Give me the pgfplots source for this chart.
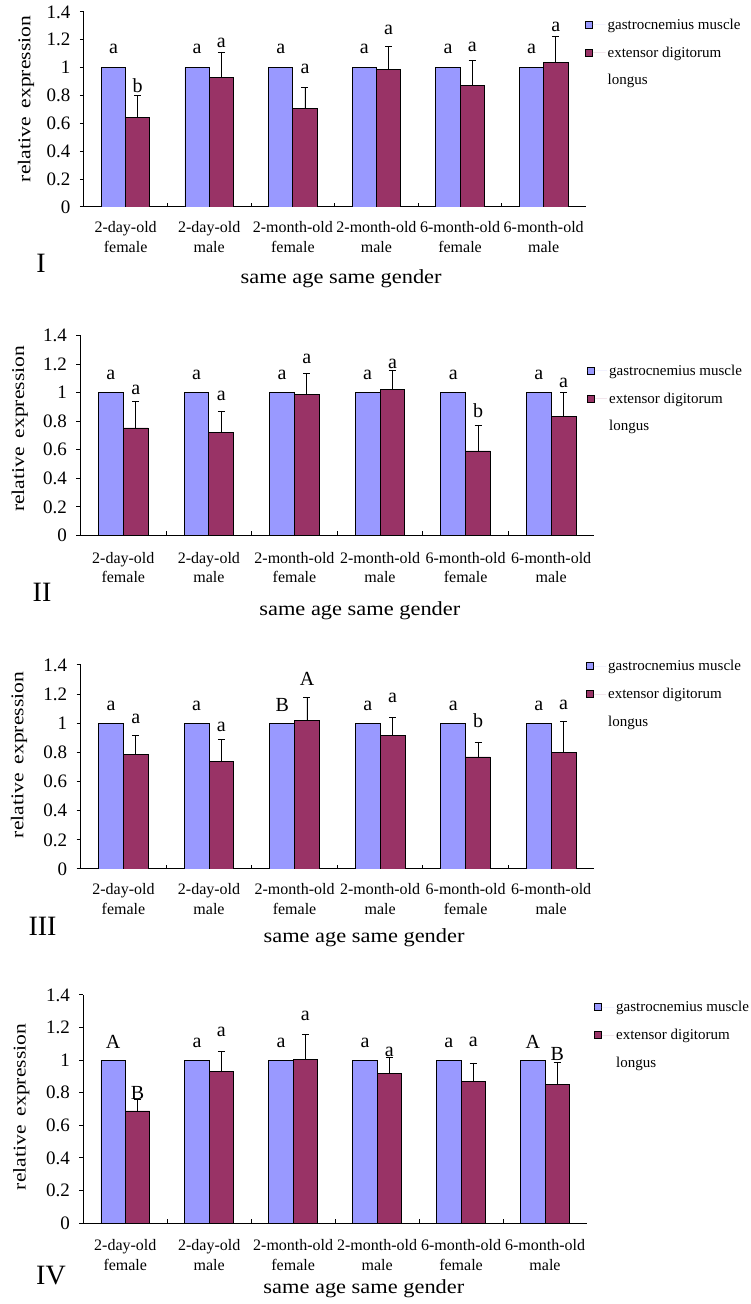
\documentclass[border=0pt]{standalone}
\usepackage{fontspec}
\setmainfont{Liberation Serif}
\newfontfamily\stretchfont{Liberation Serif}[FakeStretch=1.2]
\newfontfamily\stretchfontb{Liberation Serif}[FakeStretch=1.12]
\usepackage{pgfplots}
\pgfplotsset{compat=1.18}
\definecolor{gblue}{HTML}{9999FF}
\definecolor{gred}{HTML}{993366}
\newcommand\tickfont{\fontsize{19}{22}\selectfont}
\newcommand\catfont{\fontsize{16}{19.5}\selectfont}
\newcommand\letfont{\fontsize{20}{22}\selectfont}
\newcommand\legfont{\fontsize{15}{17}\selectfont}
\newcommand\labfont{\fontsize{20}{24}\stretchfontb}
\newcommand\ylabfont{\fontsize{18}{20}\stretchfont}
\newcommand\romfont{\fontsize{28}{30}\selectfont}

\pgfplotsset{
 panel/.style={
  scale only axis, xmin=0, xmax=6, ymin=0, ymax=1.4,
  axis lines*=left,
  axis line style={black, line width=1pt},
  tick align=outside,
  major tick length=4pt,
  tick style={black, line width=1pt},
  ytick={0,0.2,...,1.4},
  yticklabel style={font=\tickfont, xshift=-6pt},
  /pgf/number format/assume math mode=true,
  xtick={0.5,1.5,...,5.5},
  xticklabels={{2-day-old\\female},{2-day-old\\male},{2-month-old\\female},{2-month-old\\male},{6-month-old\\female},{6-month-old\\male}},
  xtick style={draw=none},
  extra x ticks={1,2,3,4,5},
  extra x tick labels={},
  extra x tick style={tick align=inside, xtick style={draw=black}},
  ylabel={relative\hspace{0.5em}expression},
  xlabel={same age same gender},
  legend style={draw=none, fill=none, font=\legfont, at={(1,1)}, anchor=north west, legend cell align=left, row sep=12pt},
  legend image code/.code={\draw[##1, draw=black, line width=0.8pt] (0pt,-3.5pt) rectangle (7pt,3.5pt); \path[draw=none] (0pt,0pt) -- (20pt,0pt);},
 },
 gbar/.style={ybar, bar width=0.29, bar shift=0, fill=gblue, draw=black, line width=0.8pt},
 rbar/.style={ybar, bar width=0.29, bar shift=0, fill=gred, draw=black, line width=0.8pt, error bars/.cd, y dir=plus, y explicit, error bar style={black, line width=0.8pt}, error mark options={rotate=90, mark size=3.5pt, black, line width=0.8pt}},
 letters/.style={forget plot, draw=none, mark=none, nodes near coords, point meta=explicit symbolic, nodes near coords style={anchor=center, font=\letfont, text=black}},
}

\begin{document}
\begin{tikzpicture}
\path[use as bounding box] (0pt,0pt) rectangle (750pt,1304pt);

% ---------- Panel I ----------
\begin{axis}[panel, at={(83.8pt,1097pt)}, anchor=south west, width=501.7pt, height=195pt,
  xticklabel style={align=center, font=\catfont, yshift=-7pt},
  xlabel style={at={(axis description cs:0.513,-0.369)}, anchor=center, font=\labfont},
  ylabel style={at={(axis description cs:-0.115,0.554)}, anchor=center, font=\ylabfont},
  legend style={xshift=-3.5pt, yshift=-2.5pt}]
\addplot[gbar] coordinates {(0.355,1) (1.355,1) (2.355,1) (3.355,1) (4.355,1) (5.355,1)};
\addlegendentry{gastrocnemius muscle}
\addplot[rbar] coordinates {(0.645,0.642) +- (0,0.158) (1.645,0.928) +- (0,0.185) (2.645,0.71) +- (0,0.147) (3.645,0.989) +- (0,0.164) (4.645,0.873) +- (0,0.177) (5.645,1.04) +- (0,0.185)};
\addlegendentry{extensor digitorum}
\addlegendimage{empty legend}
\addlegendentry{longus}
\addplot[letters] coordinates {(0.355,1.137) [a] (1.355,1.137) [a] (2.355,1.137) [a] (3.355,1.137) [a] (4.355,1.137) [a] (5.355,1.137) [a]};
\addplot[letters] coordinates {(0.645,0.873) [b] (1.645,1.18) [a] (2.645,0.993) [a] (3.645,1.268) [a] (4.645,1.148) [a] (5.645,1.292) [a]};
\end{axis}
\node[font=\romfont] at (41pt,1041pt) {I};

% ---------- Panel II ----------
\begin{axis}[panel, at={(80.5pt,768.5pt)}, anchor=south west, width=513.5pt, height=200pt,
  xticklabel style={align=center, font=\catfont, yshift=-9pt},
  xlabel style={at={(axis description cs:0.544,-0.378)}, anchor=center, font=\labfont},
  ylabel style={at={(axis description cs:-0.118,0.533)}, anchor=center, font=\ylabfont},
  legend style={xshift=-10.5pt, yshift=-25pt}]
\addplot[gbar] coordinates {(0.355,1) (1.355,1) (2.355,1) (3.355,1) (4.355,1) (5.355,1)};
\addlegendentry{gastrocnemius muscle}
\addplot[rbar] coordinates {(0.645,0.753) +- (0,0.187) (1.645,0.723) +- (0,0.149) (2.645,0.99) +- (0,0.146) (3.645,1.021) +- (0,0.134) (4.645,0.592) +- (0,0.182) (5.645,0.833) +- (0,0.17)};
\addlegendentry{extensor digitorum}
\addlegendimage{empty legend}
\addlegendentry{longus}
\addplot[letters] coordinates {(0.355,1.124) [a] (1.355,1.124) [a] (2.355,1.124) [a] (3.355,1.124) [a] (4.355,1.124) [a] (5.355,1.124) [a]};
\addplot[letters] coordinates {(0.645,1.017) [a] (1.645,0.976) [a] (2.645,1.233) [a] (3.645,1.201) [a] (4.645,0.872) [b] (5.645,1.068) [a]};
\end{axis}
\node[font=\romfont] at (42pt,712pt) {II};

% ---------- Panel III ----------
\begin{axis}[panel, at={(80.7pt,435pt)}, anchor=south west, width=513.3pt, height=204pt,
  xticklabel style={align=center, font=\catfont, yshift=-7pt},
  xlabel style={at={(axis description cs:0.552,-0.336)}, anchor=center, font=\labfont},
  ylabel style={at={(axis description cs:-0.120,0.559)}, anchor=center, font=\ylabfont},
  legend style={xshift=-11.5pt, yshift=9pt}]
\addplot[gbar] coordinates {(0.355,1) (1.355,1) (2.355,1) (3.355,1) (4.355,1) (5.355,1)};
\addlegendentry{gastrocnemius muscle}
\addplot[rbar] coordinates {(0.645,0.788) +- (0,0.128) (1.645,0.739) +- (0,0.151) (2.645,1.02) +- (0,0.16) (3.645,0.918) +- (0,0.12) (4.645,0.769) +- (0,0.103) (5.645,0.797) +- (0,0.214)};
\addlegendentry{extensor digitorum}
\addlegendimage{empty legend}
\addlegendentry{longus}
\addplot[letters] coordinates {(0.355,1.122) [a] (1.355,1.122) [a] (2.355,1.129) [B] (3.355,1.122) [a] (4.355,1.122) [a] (5.355,1.122) [a]};
\addplot[letters] coordinates {(0.645,1.029) [a] (1.645,0.978) [a] (2.645,1.303) [A] (3.645,1.175) [a] (4.645,1.018) [b] (5.645,1.129) [a]};
\end{axis}
\node[font=\romfont] at (42.5pt,378pt) {III};

% ---------- Panel IV ----------
\begin{axis}[panel, at={(83.3pt,81pt)}, anchor=south west, width=503.7pt, height=228pt,
  xticklabel style={align=center, font=\catfont, yshift=-9pt},
  xlabel style={at={(axis description cs:0.557,-0.288)}, anchor=center, font=\labfont},
  ylabel style={at={(axis description cs:-0.123,0.509)}, anchor=center, font=\ylabfont},
  legend style={xshift=3.5pt, yshift=-2pt}]
\addplot[gbar] coordinates {(0.355,1) (1.355,1) (2.355,1) (3.355,1) (4.355,1) (5.355,1)};
\addlegendentry{gastrocnemius muscle}
\addplot[rbar] coordinates {(0.645,0.688) +- (0,0.074) (1.645,0.928) +- (0,0.125) (2.645,1.005) +- (0,0.154) (3.645,0.918) +- (0,0.101) (4.645,0.868) +- (0,0.115) (5.645,0.848) +- (0,0.141)};
\addlegendentry{extensor digitorum}
\addlegendimage{empty legend}
\addlegendentry{longus}
\addplot[letters] coordinates {(0.355,1.109) [A] (1.355,1.103) [a] (2.355,1.103) [a] (3.355,1.103) [a] (4.355,1.103) [a] (5.355,1.109) [A]};
\addplot[letters] coordinates {(0.645,0.798) [B] (1.645,1.175) [a] (2.645,1.274) [a] (3.645,1.048) [a] (4.645,1.109) [a] (5.645,1.039) [B]};
\end{axis}
\node[font=\romfont] at (51pt,28pt) {IV};
\end{tikzpicture}
\end{document}
